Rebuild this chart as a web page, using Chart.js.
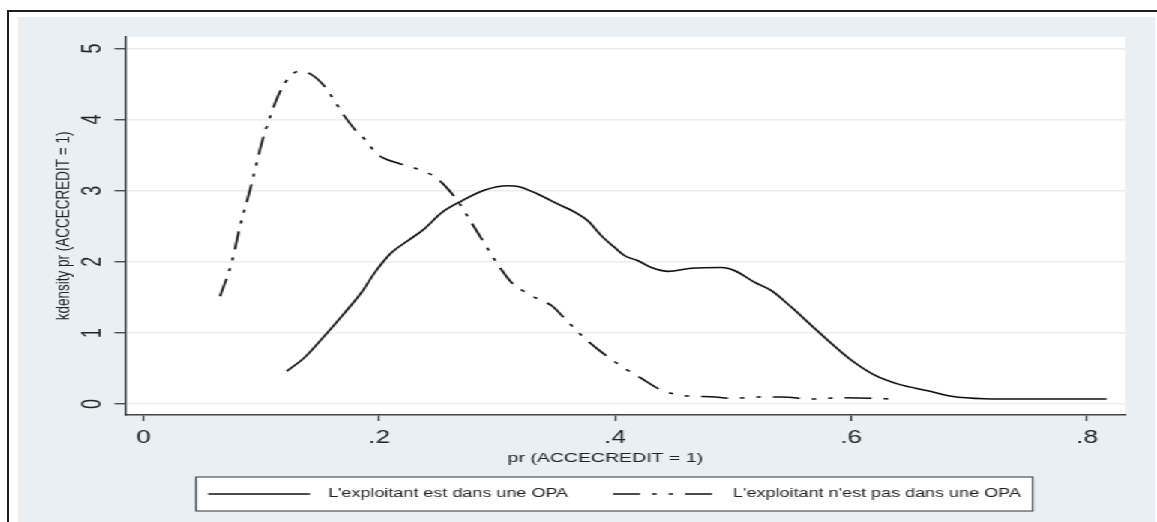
<!DOCTYPE html>
<html><head><meta charset="utf-8">
<script src="https://cdn.jsdelivr.net/npm/chart.js@4.4.1/dist/chart.umd.min.js"></script>
<style>
html,body{margin:0;padding:0;background:#fff;width:1157px;height:522px;overflow:hidden}
#frame{position:absolute;left:7px;top:10px;width:1150px;height:512px;border-top:2px solid #1e1e1e;border-left:2px solid #1e1e1e;box-sizing:border-box}
#wrap{position:absolute;left:18px;top:17px;width:758px;height:505px;transform:scaleX(1.5);transform-origin:0 0;background:#e9eff2}
canvas{display:block}
</style></head><body>
<div id="frame"></div>
<div id="wrap"><canvas id="c" width="758" height="505"></canvas></div>
<script>
// ---- data ----
const seriesNames = ["L'exploitant est dans une OPA", "L'exploitant n'est pas dans une OPA"];
const xTickValues = [0, 0.2, 0.4, 0.6, 0.8];
const xTickLabels = ['0', '.2', '.4', '.6', '.8'];
const yTickValues = [0, 1, 2, 3, 4, 5];
const yTickLabels = ['0', '1', '2', '3', '4', '5'];
const xTitle = 'pr (ACCECREDIT = 1)';
const yTitle = 'kdensity pr (ACCECREDIT = 1)';

const prInOPA = [0.1215,0.137,0.154,0.171,0.185,0.1963,0.2105,0.2246,0.2387,0.2529,0.2698,0.2896,0.3093,0.3178,0.3347,0.3517,0.3658,0.3771,0.3885,0.3997,0.4082,0.4195,0.4308,0.445,0.4647,0.490,0.5014,0.5184,0.5325,0.5495,0.5664,0.5834,0.6003,0.620,0.640,0.665,0.685,0.713,0.747,0.791,0.8165];
const densInOPA = [0.46,0.66,0.966,1.29,1.57,1.85,2.13,2.30,2.47,2.69,2.855,3.01,3.07,3.06,2.95,2.81,2.70,2.575,2.365,2.20,2.085,2.015,1.92,1.865,1.91,1.92,1.875,1.71,1.595,1.36,1.105,0.85,0.615,0.406,0.28,0.186,0.11,0.075,0.07,0.07,0.07];

const prNotOPA = [0.065,0.0749,0.082,0.0912,0.1003,0.1074,0.1158,0.1243,0.1328,0.1427,0.154,0.1625,0.1709,0.1794,0.1879,0.1963,0.2034,0.2175,0.230,0.2486,0.2585,0.2684,0.2783,0.2896,0.2995,0.3122,0.3263,0.3376,0.3461,0.3574,0.3715,0.3885,0.4082,0.4224,0.4393,0.459,0.4817,0.4986,0.5212,0.541,0.5664,0.589,0.620,0.635];
const densNotOPA = [1.516,1.99,2.505,3.06,3.67,4.04,4.39,4.61,4.68,4.63,4.46,4.25,4.04,3.86,3.72,3.55,3.46,3.38,3.32,3.18,3.02,2.81,2.55,2.25,1.99,1.71,1.55,1.455,1.385,1.20,0.966,0.73,0.50,0.36,0.196,0.117,0.103,0.08,0.10,0.10,0.07,0.088,0.08,0.07];

// ---- chart ----
const FONT = '"Liberation Sans", Arial, Helvetica, sans-serif';
Chart.defaults.font.family = FONT;
Chart.defaults.color = '#222';

const toPoints = (xs, ys) => xs.map((x, i) => ({x: x, y: ys[i]}));

const plotBg = {
  id: 'plotBg',
  beforeDraw(chart) {
    const {ctx, chartArea: a} = chart;
    ctx.save();
    ctx.fillStyle = '#ffffff';
    ctx.fillRect(a.left, a.top, a.right - a.left, a.bottom - a.top);
    ctx.restore();
  }
};

// x-axis title drawn slightly left of the plot centre, as in the reference
const xAxisTitle = {
  id: 'xAxisTitle',
  afterDraw(chart) {
    const ctx = chart.ctx, a = chart.chartArea;
    ctx.save();
    ctx.font = '13px ' + FONT;
    ctx.fillStyle = '#222';
    ctx.textAlign = 'center';
    ctx.textBaseline = 'middle';
    ctx.fillText(xTitle, (a.left + a.right) / 2 - 13, a.bottom + 43);
    ctx.restore();
  }
};

const stataLegend = {
  id: 'stataLegend',
  afterDraw(chart) {
    const ctx = chart.ctx, a = chart.chartArea;
    const fontSize = 12;
    ctx.save();
    ctx.font = fontSize + 'px ' + FONT;
    const lineW = 68, padX = 8, gapText = 12, gapItem = 30;
    const items = chart.data.datasets.map(ds => ({text: ds.label, w: ctx.measureText(ds.label).width, ds: ds}));
    const total = padX * 2 + items.reduce((s, it) => s + lineW + gapText + it.w, 0) + gapItem * (items.length - 1);
    const cx = (a.left + a.right) / 2 - 7;
    const left = cx - total / 2, top = a.bottom + 62, h = 34;
    ctx.fillStyle = '#ffffff';
    ctx.fillRect(left, top, total, h);
    ctx.strokeStyle = '#333';
    ctx.lineWidth = 1;
    ctx.strokeRect(left, top, total, h);
    let x = left + padX;
    const cy = top + h / 2;
    items.forEach(it => {
      ctx.beginPath();
      ctx.setLineDash(it.ds.borderDash || []);
      ctx.lineWidth = it.ds.borderWidth;
      ctx.strokeStyle = it.ds.borderColor;
      ctx.moveTo(x, cy); ctx.lineTo(x + lineW, cy);
      ctx.stroke();
      ctx.setLineDash([]);
      x += lineW + gapText;
      ctx.fillStyle = '#222';
      ctx.textBaseline = 'middle';
      ctx.textAlign = 'left';
      ctx.fillText(it.text, x, cy);
      x += it.w + gapItem;
    });
    ctx.restore();
  }
};

new Chart(document.getElementById('c'), {
  type: 'line',
  data: {
    datasets: [
      {
        label: seriesNames[0],
        data: toPoints(prInOPA, densInOPA),
        borderColor: '#111', borderWidth: 1.6, pointRadius: 0,
        fill: false, cubicInterpolationMode: 'monotone'
      },
      {
        label: seriesNames[1],
        data: toPoints(prNotOPA, densNotOPA),
        borderColor: '#111', borderWidth: 1.6, pointRadius: 0,
        borderDash: [18, 8, 3, 8, 3, 8],
        fill: false, cubicInterpolationMode: 'monotone'
      }
    ]
  },
  options: {
    responsive: false,
    animation: false,
    devicePixelRatio: 1,
    layout: {padding: {left: 0, right: 20, top: 18, bottom: 43}},
    plugins: {legend: {display: false}, tooltip: {enabled: false}},
    scales: {
      x: {
        type: 'linear', min: -0.0155, max: 0.832,
        afterBuildTicks: s => { s.ticks = xTickValues.map(v => ({value: v})); },
        afterFit: s => { s.height = 64; },
        ticks: {
          autoSkip: false, maxRotation: 0, padding: 7,
          font: {size: 17.5}, color: '#222',
          callback: v => xTickLabels[xTickValues.indexOf(v)]
        },
        grid: {drawOnChartArea: false, drawTicks: true, tickLength: 6, tickColor: '#333', tickWidth: 1.2},
        border: {display: true, color: '#444', width: 1.5},
        title: {display: false}
      },
      y: {
        type: 'linear', min: -0.154, max: 5.164,
        afterBuildTicks: s => { s.ticks = yTickValues.map(v => ({value: v})); },
        afterFit: s => { s.width = 71.3; },
        ticks: {
          autoSkip: false, minRotation: 90, maxRotation: 90, crossAlign: 'center', padding: 9,
          font: {size: 18}, color: '#222',
          callback: v => yTickLabels[yTickValues.indexOf(v)]
        },
        grid: {color: '#e8eef1', lineWidth: 1.5, drawTicks: true, tickLength: 7, tickColor: '#333', tickWidth: 1.2},
        border: {display: true, color: '#222', width: 1.3},
        title: {display: true, text: yTitle, font: {size: 13.5}, color: '#222', padding: {top: 22, bottom: 0}}
      }
    }
  },
  plugins: [plotBg, xAxisTitle, stataLegend]
});
</script>
</body></html>
